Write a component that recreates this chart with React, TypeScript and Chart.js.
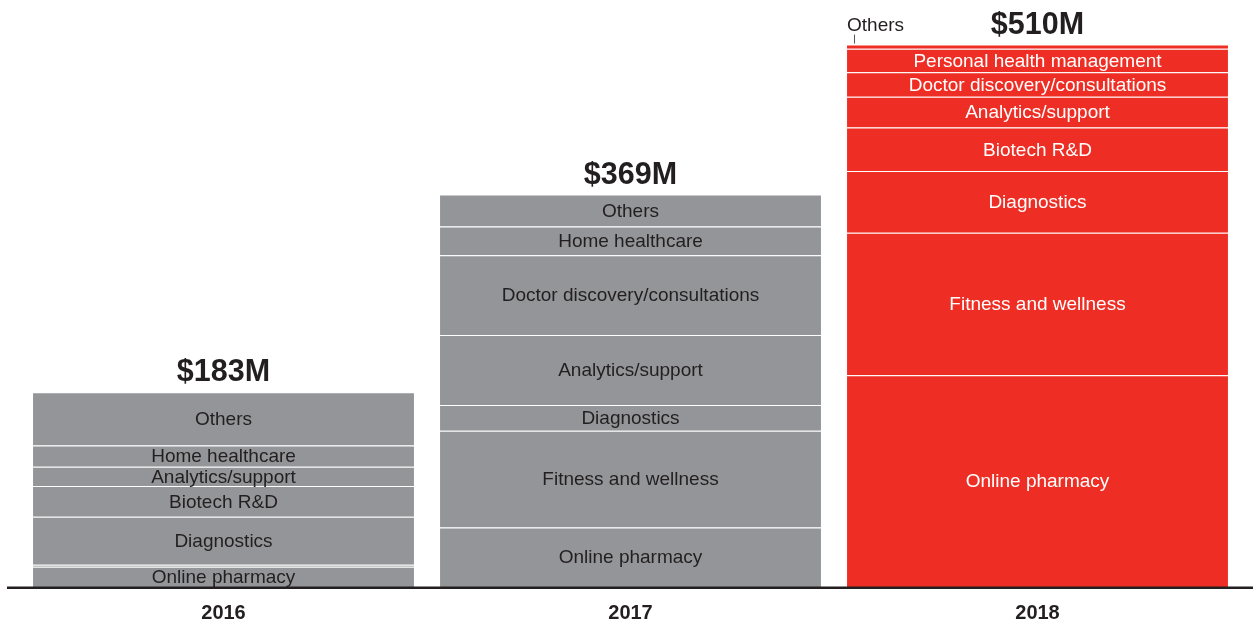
import React, { useEffect, useRef } from "react";
import { Chart, registerables } from "chart.js";

Chart.register(...registerables);

const years = ["2016", "2017", "2018"];
const segmentNames = [
  "Online pharmacy",
  "Fitness and wellness",
  "Diagnostics",
  "Biotech R&D",
  "Analytics/support",
  "Doctor discovery/consultations",
  "Home healthcare",
  "Personal health management",
  "Others",
];
// values in $M, per year [2016, 2017, 2018]
const onlinePharmacy = [19, 56, 199];
const fitnessWellness = [2, 91, 134];
const diagnostics = [45, 24, 58];
const biotech = [29, null, 41];
const analytics = [18, 66, 29];
const doctorDiscovery = [null, 75, 23];
const homeHealthcare = [20, 27, null];
const personalHealth = [null, null, 22];
const others = [50, 30, 4];

const seriesValues = [
  onlinePharmacy,
  fitnessWellness,
  diagnostics,
  biotech,
  analytics,
  doctorDiscovery,
  homeHealthcare,
  personalHealth,
  others,
];

const GRAY = "#939598";
const RED = "#ee2e24";
const DARK = "#231f20";
const FONT = "'Liberation Sans', Arial, Helvetica, sans-serif";

const labelPlugin = {
  id: "segLabels",
  afterDatasetsDraw(chart: any) {
    const ctx = chart.ctx;
    const yScale = chart.scales.y;
    const base = yScale.getPixelForValue(0);
    ctx.save();
    // segment labels
    chart.data.datasets.forEach((ds: any, di: number) => {
      const meta = chart.getDatasetMeta(di);
      meta.data.forEach((bar: any, i: number) => {
        const v = ds.data[i];
        if (v == null) return;
        const props = bar.getProps(["x", "y", "base", "width"], true);
        const top = Math.min(props.y, props.base);
        const bot = Math.max(props.y, props.base);
        const h = bot - top;
        ctx.font = `19px ${FONT}`;
        if (h < 8) {
          if (ds.label === "Others") {
            const left = props.x - props.width / 2;
            ctx.fillStyle = DARK;
            ctx.textAlign = "left";
            ctx.textBaseline = "alphabetic";
            ctx.fillText(ds.label, left, top - 14);
            ctx.strokeStyle = "#555";
            ctx.lineWidth = 1;
            ctx.beginPath();
            ctx.moveTo(left + 7.5, top - 10);
            ctx.lineTo(left + 7.5, top - 1);
            ctx.stroke();
          }
          return;
        }
        ctx.fillStyle = i === 2 ? "#ffffff" : DARK;
        ctx.textAlign = "center";
        ctx.textBaseline = "middle";
        ctx.fillText(ds.label, props.x, (top + bot) / 2 + 1);
      });
    });
    // totals and year labels
    years.forEach((yr, i) => {
      let total = 0;
      seriesValues.forEach((s) => {
        const v = s[i];
        if (v != null) total += v;
      });
      const x = chart.scales.x.getPixelForValue(i);
      const topPx = yScale.getPixelForValue(total);
      ctx.fillStyle = DARK;
      ctx.textAlign = "center";
      ctx.textBaseline = "alphabetic";
      ctx.font = `bold 30.5px ${FONT}`;
      ctx.fillText(`$${total}M`, x, topPx - 11);
      ctx.font = `bold 20px ${FONT}`;
      ctx.fillText(yr, x, base + 32);
    });
    // axis line
    ctx.fillStyle = DARK;
    ctx.fillRect(7, base - 0.5, chart.width - 7, 2.5);
    ctx.restore();
  },
};

export default function App() {
  const ref = useRef<HTMLCanvasElement | null>(null);
  useEffect(() => {
    if (!ref.current) return;
    const chart = new Chart(ref.current, {
      type: "bar",
      data: {
        labels: years,
        datasets: segmentNames.map((name, k) => ({
          label: name,
          data: seriesValues[k],
          backgroundColor: years.map((_, i) => (i === 2 ? RED : GRAY)),
          borderColor: "#ffffff",
          borderWidth: { top: 1, bottom: 0, left: 0, right: 0 },
          borderSkipped: false,
          barPercentage: 0.936,
          categoryPercentage: 1,
        })),
      },
      options: {
        responsive: false,
        animation: false,
        layout: { padding: { top: 2, bottom: 37, left: 20, right: 12 } },
        plugins: {
          legend: { display: false },
          tooltip: { enabled: false },
          title: { display: false },
        },
        scales: {
          x: { stacked: true, display: false },
          y: { stacked: true, display: false, min: 0, max: 550 },
        },
      },
      plugins: [labelPlugin],
    });
    return () => chart.destroy();
  }, []);
  return (
    <div style={{ position: "fixed", left: 0, top: 0, width: 1253, height: 624, background: "#fff" }}>
      <canvas ref={ref} width={1253} height={624} />
    </div>
  );
}
